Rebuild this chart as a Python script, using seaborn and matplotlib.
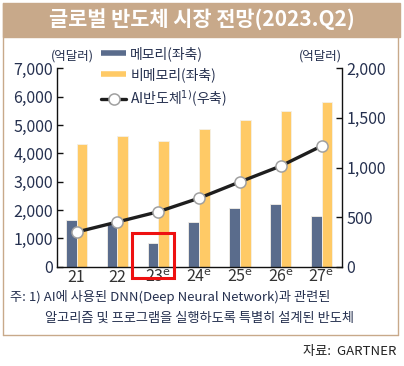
import matplotlib
matplotlib.use("Agg")
import matplotlib.pyplot as plt
import matplotlib.patches as mpatches
from matplotlib.lines import Line2D
import pandas as pd
import seaborn as sns

# data
years = ["21", "22", "23$^{\\mathrm{e}}$", "24$^{\\mathrm{e}}$", "25$^{\\mathrm{e}}$",
         "26$^{\\mathrm{e}}$", "27$^{\\mathrm{e}}$"]
memory = [1650, 1540, 830, 1590, 2060, 2215, 1790]
non_memory = [4330, 4610, 4420, 4860, 5180, 5500, 5800]
ai_chip = [349, 451, 554, 691, 855, 1015, 1217]

sns.set_style("white")
plt.rcParams['font.family'] = ['Noto Sans CJK KR', 'DejaVu Sans']
plt.rcParams['axes.unicode_minus'] = False

navy = '#5a6c8c'
yellow = '#ffca66'
brown = '#c8a98a'
lab = '#25304f'

df = pd.DataFrame({
    'year': years * 2,
    'value': memory + non_memory,
    'kind': ['메모리'] * len(years) + ['비메모리'] * len(years),
})

fig = plt.figure(figsize=(4.04, 3.66), dpi=100)
ax = fig.add_axes([57 / 404, 1 - 266.7 / 366, (342 - 57) / 404, (266.7 - 68.3) / 366])

sns.barplot(data=df, x='year', y='value', hue='kind', palette=[navy, yellow],
            width=0.52, gap=0, ax=ax, legend=False, saturation=1,
            edgecolor='#f4f0e8', linewidth=0.6)
ax.set_ylim(0, 7000)
ax.set_xlim(-0.48, 6.5)
ax.set_yticks(range(0, 7001, 1000))
ax.set_yticklabels([f"{v:,}" for v in range(0, 7001, 1000)])
ax.set_xlabel('')
ax.set_ylabel('')

ax2 = ax.twinx()
sns.lineplot(x=list(range(len(years))), y=ai_chip, ax=ax2, color='#1e1e1e', lw=2.4,
             marker='o', markersize=8, markerfacecolor='white',
             markeredgecolor='#a0a0a0', markeredgewidth=1.1)
ax2.set_ylim(0, 2000)
ax2.set_yticks(range(0, 2001, 500))
ax2.set_yticklabels([f"{v:,}" for v in range(0, 2001, 500)])
ax2.set_xlim(-0.48, 6.5)

for a in (ax, ax2):
    a.spines['top'].set_visible(False)
    for s in ('left', 'right', 'bottom'):
        a.spines[s].set_color('#111111')
        a.spines[s].set_linewidth(1.0)
ax.spines['right'].set_visible(False)
ax2.spines['left'].set_visible(False)
ax2.spines['bottom'].set_visible(False)

ax.tick_params(axis='y', direction='in', length=4, width=1, color='#111111',
               labelsize=11.5, labelcolor=lab, pad=3)
ax2.tick_params(axis='y', direction='in', length=4, width=1, color='#111111',
                labelsize=11.5, labelcolor=lab, pad=3)
ax.tick_params(axis='x', length=0, labelsize=11.5, labelcolor='#333333', pad=2)
ax.set_xticks([i + 0.5 for i in range(len(years) - 1)], minor=True)
ax.tick_params(axis='x', which='minor', direction='in', length=4, width=1, color='#111111')

ax.text(-0.02, 1.06, '(억달러)', transform=ax.transAxes, fontsize=9, color=lab,
        ha='left', va='center')
ax.text(1.0, 1.06, '(억달러)', transform=ax.transAxes, fontsize=9, color=lab,
        ha='right', va='center')

handles = [
    Line2D([0], [0], color=navy, lw=4, solid_capstyle='butt'),
    Line2D([0], [0], color=yellow, lw=4, solid_capstyle='butt'),
    Line2D([0], [0], color='#1e1e1e', lw=2.4, marker='o', markersize=8,
           markerfacecolor='white', markeredgecolor='#a0a0a0', markeredgewidth=1.1),
]
labels = ['메모리(좌축)', '비메모리(좌축)', 'AI반도체$^{1)}$(우축)']
leg = ax.legend(handles, labels, loc='upper left', bbox_to_anchor=(101 / 404, 1 - 46 / 366),
                bbox_transform=fig.transFigure, frameon=False, fontsize=10,
                handlelength=1.8, handletextpad=0.3, labelspacing=0.45, borderpad=0,
                borderaxespad=0)
for t in leg.get_texts():
    t.set_color(lab)

# red highlight box around the 2023 memory bar
ax.add_patch(mpatches.Rectangle((1.35, -390), 1.04, 1570, fill=False, edgecolor='#ee1111',
                                lw=2.2, clip_on=False, zorder=10))

# header banner and frame
fig.patches.append(mpatches.Rectangle((3 / 404, 1 - 37 / 366), 397 / 404, 34 / 366,
                                      transform=fig.transFigure, color=brown, zorder=0))
fig.text(0.5, 1 - 20 / 366, '글로벌 반도체 시장 전망(2023.Q2)', ha='center', va='center',
         color='white', fontsize=15, fontweight='bold')
fig.add_artist(Line2D([2.5 / 404, 2.5 / 404], [1 - 3 / 366, 1 - 335 / 366], color=brown, lw=1))
fig.add_artist(Line2D([398 / 404, 398 / 404], [1 - 37 / 366, 1 - 335 / 366], color=brown, lw=1))
fig.add_artist(Line2D([2.5 / 404, 398 / 404], [1 - 335 / 366, 1 - 335 / 366], color=brown, lw=1))

fig.text(10 / 404, 1 - 297 / 366, '주: 1) AI에 사용된 DNN(Deep Neural Network)과 관련된',
         ha='left', va='center', fontsize=9.5, color=lab)
fig.text(45 / 404, 1 - 318 / 366, '알고리즘 및 프로그램을 실행하도록 특별히 설계된 반도체',
         ha='left', va='center', fontsize=9.5, color=lab)
fig.text(396 / 404, 1 - 352 / 366, '자료:  GARTNER', ha='right', va='center',
         fontsize=9.5, color='#222222')

fig.savefig('out.png', dpi=100)
